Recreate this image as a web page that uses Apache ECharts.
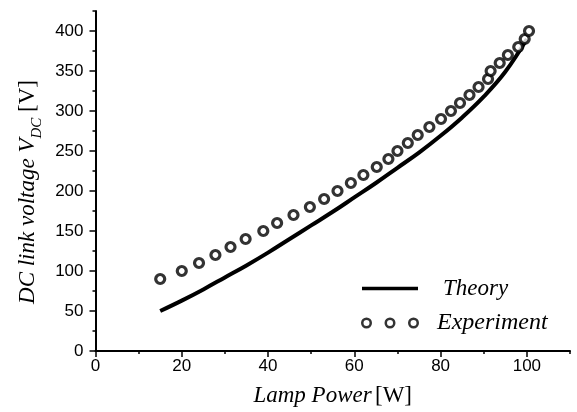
<!DOCTYPE html>
<html>
<head>
<meta charset="utf-8">
<script src="https://cdn.jsdelivr.net/npm/echarts@6/dist/echarts.min.js"></script>
<style>
html,body{margin:0;padding:0;background:#fff;}
#chart{width:577px;height:412px;}
</style>
</head>
<body>
<div id="chart"></div>
<script>
// Theory curve (Lamp Power [W] -> DC link voltage [V])
const theoryX = [15,20,25,30,35,40,45,50,55,60,65,70,75,80,85,90,95,100];
const theoryY = [50,63,77,92,107,123,140,157,174,192,210,229,248,269,292,318,349,390];
// Experiment points
const expX = [15,20,24,27.8,31.3,34.8,38.9,42.1,45.9,49.7,53,56.1,59.2,62.1,65.2,67.9,70,72.4,74.7,77.4,80.1,82.4,84.5,86.7,88.8,91,91.6,93.7,95.6,98,99.5,100.5];
const expY = [90,100,110,120,130,140,150,160,170,180,190,200,210,220,230,240,250,260,270,280,290,300,310,320,330,340,350,360,370,380,390,400];
// Tick values
const yMajorTicks = [0,50,100,150,200,250,300,350,400];
const xMajorTicks = [0,20,40,60,80,100];

const chart = echarts.init(document.getElementById('chart'), null, {renderer:'canvas'});
const sans = 'Liberation Sans, Arial, sans-serif';
const serif = 'Liberation Serif, Times New Roman, serif';

const option = {
  animation: false,
  backgroundColor: '#fff',
  grid: {left: 95.5, right: 7, top: 11, bottom: 60, containLabel: false},
  xAxis: [{
    type: 'value', min: 0, max: 110, interval: 20, position: 'bottom',
    axisLine: {show: true, lineStyle: {color: '#000', width: 2}},
    axisTick: {show: true, inside: false, length: 6, lineStyle: {color: '#000', width: 1.5}, customValues: xMajorTicks},
    axisLabel: {color: '#000', fontSize: 17, fontFamily: sans, margin: 7, customValues: xMajorTicks},
    splitLine: {show: false},
    name: '{i|Lamp Power} {n|[W]}',
    nameLocation: 'middle', nameGap: 33,
    nameTextStyle: {
      rich: {
        i: {fontFamily: serif, fontStyle: 'italic', fontSize: 23, color: '#000'},
        n: {fontFamily: serif, fontSize: 23, color: '#000'}
      }
    }
  },{
    type: 'value', min: 0, max: 110, interval: 10, position: 'bottom',
    axisLine: {show: false},
    axisTick: {show: true, inside: false, length: 3, lineStyle: {color: '#000', width: 1.5}},
    axisLabel: {show: false},
    splitLine: {show: false}
  }],
  yAxis: [{
    type: 'value', min: 0, max: 425, interval: 50, position: 'left',
    axisLine: {show: true, lineStyle: {color: '#000', width: 2}},
    axisTick: {show: true, inside: false, length: 6, lineStyle: {color: '#000', width: 1.5}, customValues: yMajorTicks},
    axisLabel: {color: '#000', fontSize: 17, fontFamily: sans, margin: 12, customValues: yMajorTicks},
    splitLine: {show: false},
    name: '{i|DC link voltage V}{s|DC}{n| [V]}',
    nameLocation: 'middle', nameGap: 48, nameRotate: 90,
    nameTextStyle: {
      padding: [0, 22, 0, 0],
      rich: {
        i: {fontFamily: serif, fontStyle: 'italic', fontSize: 23, color: '#000', lineHeight: 28, verticalAlign: 'top'},
        s: {fontFamily: serif, fontStyle: 'italic', fontSize: 15, color: '#000', lineHeight: 28, verticalAlign: 'bottom'},
        n: {fontFamily: serif, fontSize: 23, color: '#000', lineHeight: 28, verticalAlign: 'top'}
      }
    }
  },{
    type: 'value', min: 0, max: 425, interval: 25, position: 'left',
    axisLine: {show: false},
    axisTick: {show: true, inside: false, length: 3, lineStyle: {color: '#000', width: 1.5}},
    axisLabel: {show: false},
    splitLine: {show: false}
  }],
  legend: [{
    data: [{name: 'Theory', icon: 'rect'}],
    left: 357, top: 272, itemWidth: 56, itemHeight: 3.5,
    selectedMode: false,
    textStyle: {fontFamily: serif, fontStyle: 'italic', fontSize: 23, color: '#000', padding: [0,0,0,20]}
  },{
    data: [{name: 'Experiment',
      icon: 'path://M5.5,0A5.5,5.5,0,1,1,5.49,0ZM5.5,2.5A3,3,0,1,0,5.51,2.5ZM29,0A5.5,5.5,0,1,1,28.99,0ZM29,2.5A3,3,0,1,0,29.01,2.5ZM52.5,0A5.5,5.5,0,1,1,52.49,0ZM52.5,2.5A3,3,0,1,0,52.51,2.5Z',
      itemStyle: {color: '#000', borderWidth: 0}}],
    left: 356, top: 306, itemWidth: 58, itemHeight: 11,
    selectedMode: false,
    textStyle: {fontFamily: serif, fontStyle: 'italic', fontSize: 24, color: '#000', padding: [0,0,0,13]}
  }],
  series: [{
    name: 'Theory', type: 'line', xAxisIndex: 0, yAxisIndex: 0,
    data: theoryX.map((x, i) => [x, theoryY[i]]),
    smooth: 0.4, showSymbol: false, symbol: 'none',
    lineStyle: {color: '#000', width: 4},
    itemStyle: {color: '#000'},
    z: 2
  },{
    name: 'Experiment', type: 'scatter', xAxisIndex: 0, yAxisIndex: 0,
    data: expX.map((x, i) => [x, expY[i]]),
    symbol: 'circle', symbolSize: 9,
    itemStyle: {color: '#fff', borderColor: '#000', borderWidth: 3.2},
    z: 3
  }]
};
chart.setOption(option);
</script>
</body>
</html>
